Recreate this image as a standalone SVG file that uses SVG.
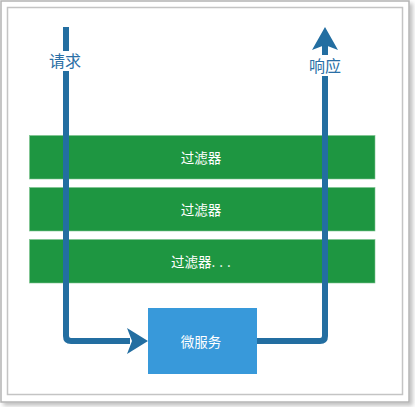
<svg xmlns="http://www.w3.org/2000/svg" width="415" height="407" viewBox="0 0 415 407">
<defs>
<style>
.frame{fill:#fff;stroke:#b4b4b4;stroke-width:1.5}
.inner{fill:none;stroke:#c4c4c4;stroke-width:1.5}
.filter rect{fill:#1e9641;stroke:#7cc48f;stroke-width:0.6}
.lbl{font-family:"Noto Sans CJK SC","Liberation Sans",sans-serif;font-size:13.5px;fill:#ffffff;text-anchor:middle;dominant-baseline:central}
.dots{letter-spacing:4px}
.io{font-family:"Noto Sans CJK SC","Liberation Sans",sans-serif;font-size:16px;fill:#2a6fa6;text-anchor:middle;dominant-baseline:central}
.conn{fill:none;stroke:#236ea1;stroke-width:6;stroke-linejoin:round}
.head{fill:#236ea1}
</style>
<filter id="sh" x="-5%" y="-5%" width="115%" height="115%">
<feGaussianBlur in="SourceAlpha" stdDeviation="2"/>
<feOffset dx="3" dy="3"/>
<feComponentTransfer><feFuncA type="linear" slope="0.25"/></feComponentTransfer>
<feMerge><feMergeNode/><feMergeNode in="SourceGraphic"/></feMerge>
</filter>
</defs>
<g id="frame">
<rect class="frame" x="1" y="1" width="408" height="401" filter="url(#sh)"/>
<rect class="inner" x="7.5" y="7.5" width="395" height="387"/>
</g>
<g id="filter1" class="filter">
<rect x="29.5" y="135.5" width="345.5" height="43.5"/>
</g>
<g id="filter2" class="filter">
<rect x="29.5" y="187.5" width="345.5" height="43.5"/>
</g>
<g id="filter3" class="filter">
<rect x="29.5" y="239.5" width="345.5" height="43.5"/>
</g>
<g id="microservice">
<rect x="148" y="308" width="109" height="66" fill="#3899da"/>
</g>
<g id="connectors">
<path class="conn" d="M66 27 V336 Q66 341 71 341 H130"/>
<path class="head" d="M148 341 L127 328 L132 341 L127 354 Z"/>
<path class="conn" d="M257 341 H320 Q325 341 325 336 V45"/>
<path class="head" d="M325 27 L312 50 L325 45 L338 50 Z"/>
<rect x="44" y="51" width="42" height="20" fill="#fff"/>
<rect x="304" y="55" width="42" height="21" fill="#fff"/>
</g>
<g id="texts">
<text class="lbl" x="201" y="157">过滤器</text>
<text class="lbl" x="201" y="209">过滤器</text>
<text class="lbl" x="203" y="261">过滤器<tspan class="dots">...</tspan></text>
<text class="lbl" x="201" y="341">微服务</text>
<text class="io" x="65" y="60">请求</text>
<text class="io" x="325" y="65">响应</text>
</g>
</svg>
